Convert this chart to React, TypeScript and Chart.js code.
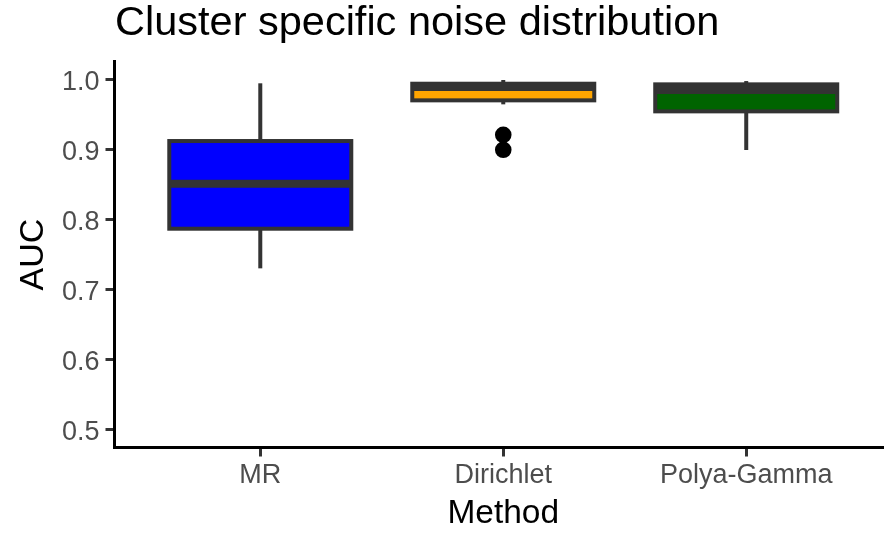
import React, { useEffect, useRef } from "react";
import { Chart, registerables } from "chart.js";

Chart.register(...registerables);

const categories = ["MR", "Dirichlet", "Polya-Gamma"];
const whiskerLow = [0.7304, 0.9642, 0.8991];
const q1 = [0.7869, 0.9699, 0.9542];
const median = [0.8509, 0.9889, 0.9846];
const q3 = [0.9119, 0.9936, 0.9927];
const whiskerHigh = [0.9942, 0.9989, 0.9974];
const outlierCategory = [1, 1];
const outlierValues = [0.9208, 0.8994];
const fillColors = ["#0000FF", "#FFA500", "#006400"];
const yTicks = [0.5, 0.6, 0.7, 0.8, 0.9, 1.0];
const xTicks = [0, 1, 2];
const chartTitle = "Cluster specific noise distribution";
const xTitle = "Method";
const yTitle = "AUC";

const FONT = "'Liberation Sans', Arial, sans-serif";

const boxPlugin = {
  id: "boxDecor",
  afterDatasetsDraw(chart: any) {
    const { ctx } = chart;
    const x = chart.scales.x;
    const y = chart.scales.y;
    const meta = chart.getDatasetMeta(0);
    ctx.save();
    ctx.strokeStyle = "#333333";
    ctx.lineCap = "butt";
    ctx.lineJoin = "miter";
    const line = (x1: number, y1: number, x2: number, y2: number) => {
      ctx.beginPath();
      ctx.moveTo(x1, y1);
      ctx.lineTo(x2, y2);
      ctx.stroke();
    };
    categories.forEach((_, i) => {
      const bar = meta.data[i];
      const cx = x.getPixelForValue(i);
      const half = (bar && bar.width ? bar.width : 182) / 2;
      const yq1 = y.getPixelForValue(q1[i]);
      const yq3 = y.getPixelForValue(q3[i]);
      const ym = y.getPixelForValue(median[i]);
      const ywl = y.getPixelForValue(whiskerLow[i]);
      const ywh = y.getPixelForValue(whiskerHigh[i]);
      ctx.lineWidth = 4;
      line(cx, yq3, cx, ywh);
      line(cx, yq1, cx, ywl);
      ctx.strokeRect(cx - half, yq3, 2 * half, yq1 - yq3);
      ctx.lineWidth = 8;
      line(cx - half, ym, cx + half, ym);
    });
    ctx.restore();
  },
  afterDraw(chart: any) {
    const { ctx, chartArea } = chart;
    const x = chart.scales.x;
    ctx.save();
    ctx.fillStyle = "#000000";
    ctx.textBaseline = "alphabetic";
    // main title
    ctx.font = `41.5px ${FONT}`;
    ctx.textAlign = "left";
    ctx.fillText(chartTitle, chartArea.left + 0.5, 35);
    // x title
    ctx.font = `33.5px ${FONT}`;
    ctx.textAlign = "center";
    ctx.fillText(xTitle, x.getPixelForValue(1), 523.3);
    // y title
    ctx.font = `34px ${FONT}`;
    ctx.translate(43.3, (chartArea.top + chartArea.bottom) / 2);
    ctx.rotate(-Math.PI / 2);
    ctx.textAlign = "center";
    ctx.fillText(yTitle, 0, 0);
    ctx.restore();
  },
};

export default function App() {
  const canvasRef = useRef<HTMLCanvasElement | null>(null);

  useEffect(() => {
    if (!canvasRef.current) return;
    const chart = new Chart(canvasRef.current, {
      type: "bar",
      data: {
        datasets: [
          {
            type: "bar",
            data: categories.map((_, i) => ({ x: i, y: [q1[i], q3[i]] })) as any,
            backgroundColor: fillColors,
            borderWidth: 0,
            barThickness: 182,
            order: 2,
          } as any,
          {
            type: "scatter",
            data: outlierValues.map((v, i) => ({ x: outlierCategory[i], y: v })),
            backgroundColor: "#000000",
            borderWidth: 0,
            pointRadius: 8.3,
            order: 1,
          } as any,
        ],
      },
      options: {
        animation: false,
        responsive: false,
        events: [],
        layout: { autoPadding: false, padding: { top: 61.7, left: 0, right: 0, bottom: 0 } },
        plugins: {
          legend: { display: false },
          tooltip: { enabled: false },
          title: { display: false },
        },
        scales: {
          x: {
            type: "linear",
            min: -0.6,
            max: 2.567,
            offset: false,
            afterBuildTicks: (s: any) => {
              s.ticks = xTicks.map((v) => ({ value: v }));
            },
            afterFit: (s: any) => {
              s.height = 85.5;
              s.paddingLeft = 0;
              s.paddingRight = 0;
            },
            grid: {
              drawOnChartArea: false,
              drawTicks: true,
              offset: false,
              tickLength: 9,
              tickWidth: 3,
              tickColor: "#333333",
              lineWidth: 3,
              color: "#333333",
            },
            border: { display: true, color: "#000000", width: 3 },
            ticks: {
              padding: 3,
              color: "#4D4D4D",
              font: { family: FONT, size: 27 },
              maxRotation: 0,
              autoSkip: false,
              callback: (v: any) => categories[Math.round(Number(v))] ?? "",
            },
          },
          y: {
            type: "linear",
            min: 0.475,
            max: 1.025,
            beginAtZero: false,
            afterBuildTicks: (s: any) => {
              s.ticks = yTicks.map((v) => ({ value: v }));
            },
            afterFit: (s: any) => {
              s.width = 114.5;
              s.paddingTop = 0;
              s.paddingBottom = 0;
            },
            grid: {
              drawOnChartArea: false,
              drawTicks: true,
              tickLength: 9,
              tickWidth: 3,
              tickColor: "#333333",
              lineWidth: 3,
              color: "#333333",
            },
            border: { display: true, color: "#000000", width: 3 },
            ticks: {
              padding: 6,
              labelOffset: 3,
              color: "#4D4D4D",
              font: { family: FONT, size: 27 },
              autoSkip: false,
              callback: (v: any) => Number(v).toFixed(1),
            },
          },
        },
      },
      plugins: [boxPlugin],
    });
    return () => chart.destroy();
  }, []);

  return (
    <div style={{ position: "absolute", left: 0, top: 0, width: 884, height: 533, background: "#ffffff" }}>
      <canvas ref={canvasRef} width={884} height={533} style={{ display: "block", width: 884, height: 533 }} />
    </div>
  );
}
